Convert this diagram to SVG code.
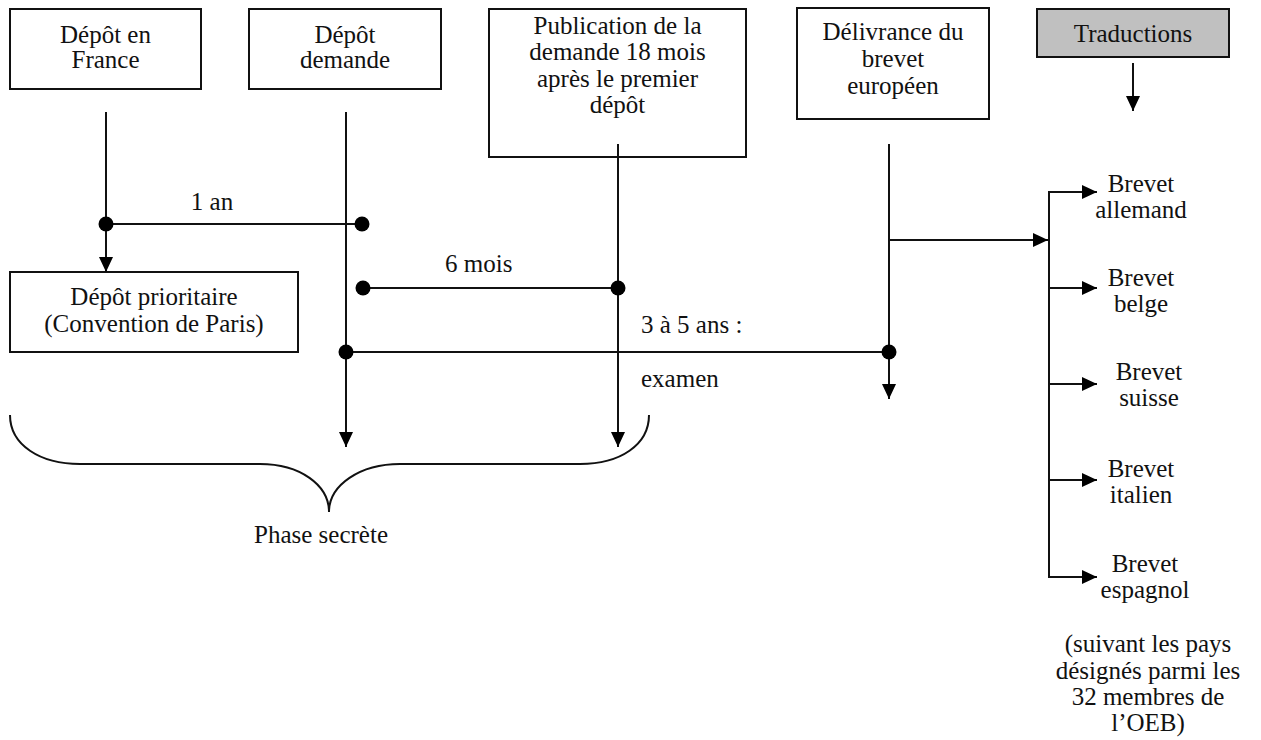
<svg xmlns="http://www.w3.org/2000/svg" width="1261" height="740" viewBox="0 0 1261 740" font-family="'Liberation Serif', 'DejaVu Serif', serif">
<style>
text{font-family:'Liberation Serif','DejaVu Serif',serif;font-size:25px;fill:#111;text-anchor:middle}
.l{text-anchor:start}
.box{fill:#fff;stroke:#111;stroke-width:2}
.ln{fill:none;stroke:#111;stroke-width:2}
.dot{fill:#000}
</style>
<defs>
<marker id="ah" viewBox="0 0 15 14" refX="15" refY="7" markerWidth="15" markerHeight="14" markerUnits="userSpaceOnUse" orient="auto">
<path d="M0,0 L15,7 L0,14 Z" fill="#000"/>
</marker>
</defs>
<rect width="1261" height="740" fill="#fff"/>
<g id="n-depot-france"><rect class="box" x="10" y="9" width="191" height="80"/><text x="105.5" y="43">Dépôt en</text><text x="105.5" y="68">France</text></g>
<g id="n-depot-demande"><rect class="box" x="249" y="9" width="192" height="80"/><text x="345" y="43">Dépôt</text><text x="345" y="68">demande</text></g>
<g id="n-publication"><rect class="box" x="489" y="9" width="257" height="148"/><text x="617.5" y="34">Publication de la</text><text x="617.5" y="60">demande 18 mois</text><text x="617.5" y="87">après le premier</text><text x="617.5" y="113">dépôt</text></g>
<g id="n-delivrance"><rect class="box" x="797" y="8" width="192" height="111"/><text x="893" y="40">Délivrance du</text><text x="893" y="67">brevet</text><text x="893" y="94">européen</text></g>
<g id="n-traductions"><rect class="box" x="1037" y="9" width="192" height="48" style="fill:#c0c0c0"/><text x="1133" y="42">Traductions</text></g>
<g id="n-prioritaire"><rect class="box" x="10" y="272" width="288" height="80"/><text x="154" y="305">Dépôt prioritaire</text><text x="154" y="332">(Convention de Paris)</text></g>
<g id="n-allemand"><text x="1141" y="192">Brevet</text><text x="1141" y="218">allemand</text></g>
<g id="n-belge"><text x="1141" y="286">Brevet</text><text x="1141" y="312">belge</text></g>
<g id="n-suisse"><text x="1149" y="380">Brevet</text><text x="1149" y="406">suisse</text></g>
<g id="n-italien"><text x="1141" y="477">Brevet</text><text x="1141" y="503">italien</text></g>
<g id="n-espagnol"><text x="1145" y="572">Brevet</text><text x="1145" y="598">espagnol</text></g>
<g id="n-note"><text x="1148" y="652">(suivant les pays</text><text x="1148" y="679">désignés parmi les</text><text x="1148" y="705">32 membres de</text><text x="1148" y="731">l’OEB)</text></g>
<g id="n-phase"><path class="ln" d="M10,415 C10,445 40,464 80,464 L260,464 C300,464 329,485 329,512 C329,485 360,464 400,464 L580,464 C620,464 649,445 649,415"/><text x="321" y="543">Phase secrète</text></g>
<g id="connectors">
<line class="ln" x1="106" y1="112" x2="106" y2="272" marker-end="url(#ah)"/>
<line class="ln" x1="346" y1="112" x2="346" y2="447" marker-end="url(#ah)"/>
<line class="ln" x1="618" y1="144" x2="618" y2="447" marker-end="url(#ah)"/>
<line class="ln" x1="889" y1="144" x2="889" y2="399" marker-end="url(#ah)"/>
<line class="ln" x1="1133" y1="63" x2="1133" y2="111" marker-end="url(#ah)"/>
<line class="ln" x1="106" y1="224" x2="362" y2="224"/>
<circle class="dot" cx="106" cy="224" r="7.5"/><circle class="dot" cx="362" cy="224" r="7.5"/>
<text x="212" y="210">1 an</text>
<line class="ln" x1="363" y1="288" x2="618" y2="288"/>
<circle class="dot" cx="363" cy="288" r="7.5"/><circle class="dot" cx="618" cy="288" r="7.5"/>
<text class="l" x="445" y="272">6 mois</text>
<line class="ln" x1="346" y1="352" x2="889" y2="352"/>
<circle class="dot" cx="346" cy="352" r="7.5"/><circle class="dot" cx="889" cy="352" r="7.5"/>
<text class="l" x="641" y="333">3 à 5 ans :</text>
<text class="l" x="641" y="387">examen</text>
<line class="ln" x1="889" y1="240" x2="1048" y2="240" marker-end="url(#ah)"/>
<line class="ln" x1="1049" y1="192" x2="1049" y2="577"/>
<line class="ln" x1="1048" y1="192" x2="1097" y2="192" marker-end="url(#ah)"/>
<line class="ln" x1="1048" y1="288" x2="1097" y2="288" marker-end="url(#ah)"/>
<line class="ln" x1="1048" y1="384" x2="1097" y2="384" marker-end="url(#ah)"/>
<line class="ln" x1="1048" y1="480" x2="1097" y2="480" marker-end="url(#ah)"/>
<line class="ln" x1="1048" y1="577" x2="1097" y2="577" marker-end="url(#ah)"/>
</g>
</svg>
